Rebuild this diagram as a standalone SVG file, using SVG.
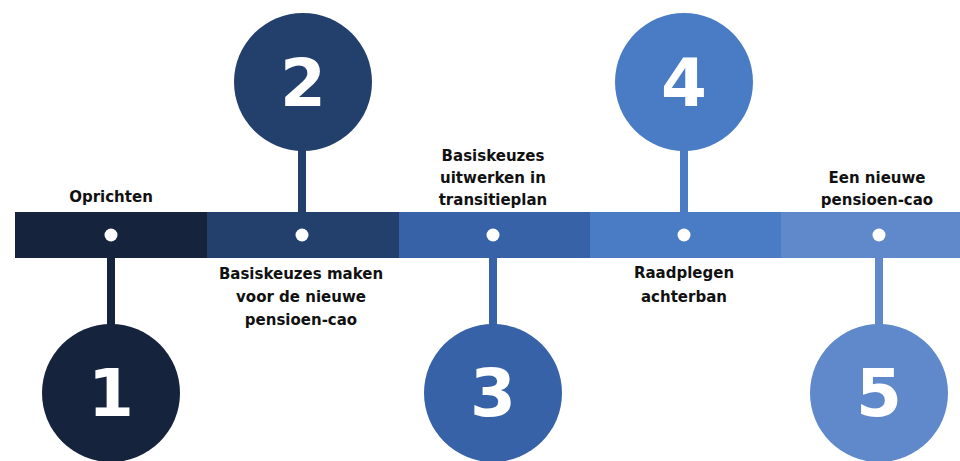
<svg xmlns="http://www.w3.org/2000/svg" width="960" height="461" viewBox="0 0 960 461">
<style>
.lbl{font-family:"DejaVu Sans","Verdana",sans-serif;font-weight:bold;font-size:15px;fill:#111;text-anchor:middle}
.num{font-family:"DejaVu Sans","Verdana",sans-serif;font-weight:bold;font-size:66px;fill:#fff;text-anchor:middle}
.dot{fill:#fff}
.c1{fill:#15233d}.c2{fill:#233f6c}.c3{fill:#3862a8}.c4{fill:#4a7cc5}.c5{fill:#5f89cb}
</style>
<rect width="960" height="461" fill="#fff"/>
<g id="connectors">
<rect class="c1" x="107" y="256" width="8" height="70"/>
<rect class="c2" x="298" y="148" width="8" height="66"/>
<rect class="c3" x="489" y="256" width="8" height="70"/>
<rect class="c4" x="680" y="148" width="8" height="66"/>
<rect class="c5" x="875" y="256" width="8" height="70"/>
</g>
<g id="timeline">
<rect class="c1" x="15" y="212" width="192" height="46"/>
<rect class="c2" x="207" y="212" width="192" height="46"/>
<rect class="c3" x="399" y="212" width="191" height="46"/>
<rect class="c4" x="590" y="212" width="191" height="46"/>
<rect class="c5" x="781" y="212" width="179" height="46"/>
</g>
<g id="step1">
<circle class="dot" cx="111" cy="235" r="6.5"/>
<circle class="c1" cx="111" cy="393" r="69"/>
<text class="num" x="111" y="416">1</text>
<text class="lbl" x="111" y="202">Oprichten</text>
</g>
<g id="step2">
<circle class="dot" cx="302" cy="235" r="6.5"/>
<circle class="c2" cx="303" cy="82" r="69"/>
<text class="num" x="303" y="106">2</text>
<text class="lbl" x="301" y="279">Basiskeuzes maken</text>
<text class="lbl" x="301" y="302">voor de nieuwe</text>
<text class="lbl" x="301" y="325">pensioen-cao</text>
</g>
<g id="step3">
<circle class="dot" cx="493" cy="235" r="6.5"/>
<circle class="c3" cx="493" cy="393" r="69"/>
<text class="num" x="493" y="416">3</text>
<text class="lbl" x="493" y="161">Basiskeuzes</text>
<text class="lbl" x="493" y="183">uitwerken in</text>
<text class="lbl" x="493" y="205">transitieplan</text>
</g>
<g id="step4">
<circle class="dot" cx="684" cy="235" r="6.5"/>
<circle class="c4" cx="684" cy="82" r="69"/>
<text class="num" x="684" y="106">4</text>
<text class="lbl" x="684" y="278">Raadplegen</text>
<text class="lbl" x="684" y="302">achterban</text>
</g>
<g id="step5">
<circle class="dot" cx="879" cy="235" r="6.5"/>
<circle class="c5" cx="879" cy="393" r="69"/>
<text class="num" x="879" y="416">5</text>
<text class="lbl" x="877" y="183">Een nieuwe</text>
<text class="lbl" x="877" y="205">pensioen-cao</text>
</g>
</svg>
